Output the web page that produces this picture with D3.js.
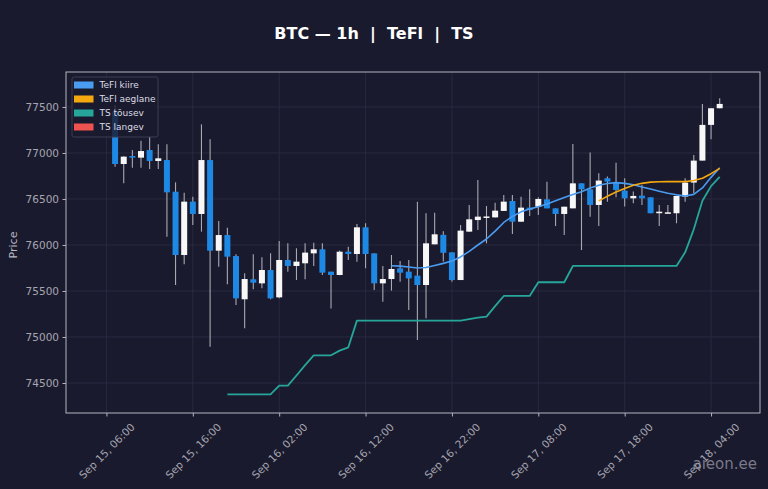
<!DOCTYPE html>
<html>
<head>
<meta charset="utf-8">
<script src="https://cdn.jsdelivr.net/npm/d3@7"></script>
<style>
  html, body { margin: 0; padding: 0; background: #1a1a2e; }
  svg { display: block; font-family: "DejaVu Sans", sans-serif; }
</style>
</head>
<body>
<div id="chart"></div>
<script>
// hourly candles, first one at Sep 15 07:00 (UTC)
const firstCandle = "2025-09-15T07:00:00Z";
const opens = [77450, 76880, 76967, 76949, 77032, 76913, 76923, 76579, 75891, 76471,
  76337, 76923, 75938, 76108, 75880, 75410, 75627, 75583, 75728, 75431,
  75837, 75772, 75801, 75909, 75953, 75710, 75674, 75927, 75902, 76192,
  75909, 75583, 75630, 75746, 75710, 75667, 75565, 76007, 76110, 75920,
  75619, 76145, 76271, 76300, 76300, 76370, 76478, 76253, 76406, 76416,
  76496, 76398, 76337, 76398, 76670, 76605, 76435, 76725, 76678, 76591,
  76507, 76536, 76518, 76345, 76345, 76345, 76526, 76678, 76917, 77305, 77486];
const highs = [77520, 76965, 77032, 77134, 77177, 77094, 77094, 76681, 76568, 76525,
  77311, 77148, 76260, 76188, 75899, 75692, 75899, 75866, 75909, 76043,
  76018, 75964, 76018, 76025, 76018, 75710, 75940, 75982, 76228, 76235,
  75909, 75772, 75891, 75826, 75837, 76471, 76344, 76351, 76150, 75920,
  76217, 76434, 76706, 76424, 76460, 76543, 76543, 76525, 76605, 76518,
  76688, 76398, 76416, 77098, 76670, 77004, 76779, 76743, 76895, 76725,
  76580, 76652, 76518, 76435, 76435, 76533, 76725, 76978, 77533, 77486, 77594];
const lows = [76851, 76670, 76840, 76840, 76826, 76826, 76090, 75565, 75790, 76217,
  76145, 74895, 75764, 75572, 75348, 75095, 75518, 75529, 75409, 75420,
  75710, 75619, 75627, 75772, 75674, 75311, 75670, 75837, 75819, 75746,
  75511, 75384, 75504, 75601, 75293, 74967, 75203, 76007, 75820, 75601,
  75619, 76145, 76163, 76018, 76300, 76370, 76119, 76253, 76315, 76326,
  76398, 76206, 76108, 76398, 75945, 76308, 76207, 76471, 76518, 76417,
  76453, 76435, 76345, 76207, 76345, 76236, 76471, 76562, 76917, 77149, 77486];
const closes = [76880, 76960, 76949, 77021, 76913, 76942, 76572, 75891, 76471, 76337,
  76923, 75938, 76108, 75873, 75420, 75630, 75590, 75728, 75420, 75837,
  75772, 75819, 75917, 75953, 75699, 75674, 75927, 75902, 76192, 75902,
  75583, 75630, 75739, 75699, 75637, 75565, 76018, 76116, 75915, 75619,
  76156, 76279, 76308, 76310, 76373, 76471, 76253, 76406, 76380, 76500,
  76398, 76337, 76416, 76670, 76605, 76435, 76700, 76689, 76598, 76507,
  76533, 76507, 76345, 76362, 76355, 76533, 76678, 76917, 77305, 77486, 77533];

// TeFl kiire from Sep 16 15:00
const kiireFrom = "2025-09-16T15:00:00Z";
const kiire = [75775, 75770, 75760, 75750, 75755, 75778, 75800, 75825, 75870, 75930,
  76000, 76065, 76150, 76245, 76310, 76360, 76390, 76416, 76445, 76480,
  76515, 76548, 76578, 76620, 76650, 76668, 76678, 76670, 76655, 76630,
  76608, 76585, 76562, 76545, 76533, 76550, 76620, 76735, 76840];

// TeFl aeglane from Sep 17 15:00
const aeglaneFrom = "2025-09-17T15:00:00Z";
const aeglane = [76479, 76530, 76575, 76615, 76650, 76670, 76683, 76688, 76689, 76689,
  76689, 76700, 76725, 76775, 76833];

// TS tõusev from Sep 15 20:00
const tsFrom = "2025-09-15T20:00:00Z";
const tsUp = [74377, 74377, 74377, 74377, 74377, 74377, 74471, 74471, 74582, 74695,
  74801, 74801, 74801, 74852, 74888, 75178, 75178, 75178, 75178, 75178,
  75178, 75178, 75178, 75178, 75178, 75178, 75178, 75178, 75195, 75210,
  75221, 75335, 75446, 75446, 75446, 75446, 75595, 75595, 75595, 75595,
  75772, 75772, 75772, 75772, 75772, 75772, 75772, 75772, 75772, 75772,
  75772, 75772, 75772, 75920, 76170, 76480, 76640, 76740];

const xTicks = ["2025-09-15T06:00:00Z", "2025-09-15T16:00:00Z", "2025-09-16T02:00:00Z",
  "2025-09-16T12:00:00Z", "2025-09-16T22:00:00Z", "2025-09-17T08:00:00Z",
  "2025-09-17T18:00:00Z", "2025-09-18T04:00:00Z"];
const yTicks = [74500, 75000, 75500, 76000, 76500, 77000, 77500];

const legendNames = ["TeFl kiire", "TeFl aeglane", "TS tõusev", "TS langev"];
const legendColors = ["#4a9cf0", "#f5a70f", "#26a69a", "#ef5350"];

// set the dimensions and margins of the graph
const margin = {top: 72, right: 8, bottom: 76, left: 66},
    width = 768 - margin.left - margin.right,
    height = 489 - margin.top - margin.bottom;

const svg = d3.select("#chart")
    .append("svg")
    .attr("width", 768)
    .attr("height", 489);

svg.append("rect")
    .attr("width", 768)
    .attr("height", 489)
    .attr("fill", "#1a1a2e");

const g = svg.append("g")
    .attr("transform", `translate(${margin.left}, ${margin.top})`);

const hour = (s, i) => d3.utcHour.offset(new Date(s), i);
const candles = opens.map((o, i) => ({t: hour(firstCandle, i), o: o, h: highs[i], l: lows[i], c: closes[i]}));

// scales
const x = d3.scaleUtc()
    .domain([new Date("2025-09-15T01:19:00Z"), new Date("2025-09-18T09:40:00Z")])
    .range([0, width]);
const y = d3.scaleLinear()
    .domain([74174, 77880])
    .range([height, 0]);

// grid
g.append("g")
    .selectAll("line.hg")
    .data(yTicks)
    .join("line")
    .attr("x1", 0).attr("x2", width)
    .attr("y1", d => y(d)).attr("y2", d => y(d))
    .attr("stroke", "#2c2c45").attr("stroke-width", 0.8);
g.append("g")
    .selectAll("line.vg")
    .data(xTicks)
    .join("line")
    .attr("x1", d => x(new Date(d))).attr("x2", d => x(new Date(d)))
    .attr("y1", 0).attr("y2", height)
    .attr("stroke", "#2c2c45").attr("stroke-width", 0.8);

// candles
const bodyW = 6;
g.append("g")
    .selectAll("line")
    .data(candles)
    .join("line")
    .attr("x1", d => x(d.t)).attr("x2", d => x(d.t))
    .attr("y1", d => y(d.h)).attr("y2", d => y(d.l))
    .attr("stroke", "#a9a9b2").attr("stroke-width", 1.1);
g.append("g")
    .selectAll("rect")
    .data(candles)
    .join("rect")
    .attr("x", d => x(d.t) - bodyW / 2)
    .attr("width", bodyW)
    .attr("y", d => y(Math.max(d.o, d.c)))
    .attr("height", d => Math.max(1.5, Math.abs(y(d.o) - y(d.c))))
    .attr("fill", d => d.c >= d.o ? "#f7f7f7" : "#1e88e5");

// lines
function drawLine(from, vals, color, w) {
    const pts = vals.map((v, i) => ({t: hour(from, i), v: v}));
    g.append("path")
        .datum(pts)
        .attr("fill", "none")
        .attr("stroke", color)
        .attr("stroke-width", w)
        .attr("stroke-linejoin", "round")
        .attr("d", d3.line().x(d => x(d.t)).y(d => y(d.v)));
}
drawLine(tsFrom, tsUp, legendColors[2], 1.8);
drawLine(kiireFrom, kiire, legendColors[0], 1.6);
drawLine(aeglaneFrom, aeglane, legendColors[1], 1.6);

// frame
g.append("rect")
    .attr("width", width).attr("height", height)
    .attr("fill", "none")
    .attr("stroke", "#b4b4c0").attr("stroke-width", 1);

// Y axis
const yAxis = g.append("g")
    .call(d3.axisLeft(y).tickValues(yTicks).tickSize(3.5).tickPadding(3.5).tickFormat(d3.format("d")));
yAxis.select(".domain").remove();
yAxis.selectAll("line").attr("stroke", "#b4b4c0");
yAxis.selectAll("text")
    .attr("fill", "#a6a6b0")
    .style("font", "10.5px 'DejaVu Sans'");

// X axis
const xAxis = g.append("g")
    .attr("transform", `translate(0, ${height})`)
    .call(d3.axisBottom(x).tickValues(xTicks.map(d => new Date(d))).tickSize(3.5).tickFormat(d3.utcFormat("%b %d, %H:%M")));
xAxis.select(".domain").remove();
xAxis.selectAll("line").attr("stroke", "#b4b4c0");
xAxis.selectAll("text")
    .attr("fill", "#a6a6b0")
    .style("font", "10.5px 'DejaVu Sans'")
    .attr("y", 0).attr("dy", "0.35em")
    .attr("text-anchor", "middle")
    .attr("transform", "translate(0, 38) rotate(-45)");

// axis label
svg.append("text")
    .attr("transform", `translate(17, ${margin.top + y(76000)}) rotate(-90)`)
    .attr("text-anchor", "middle")
    .attr("fill", "#b8b8c2")
    .style("font", "11px 'DejaVu Sans'")
    .text("Price");

// title
svg.append("text")
    .attr("x", 374).attr("y", 38.5)
    .attr("text-anchor", "middle")
    .attr("fill", "#ffffff")
    .style("font", "bold 16px 'DejaVu Sans'")
    .style("white-space", "pre")
    .text("BTC — 1h  |  TeFl  |  TS");

// legend
const lg = svg.append("g").attr("transform", "translate(72, 77)");
lg.append("rect")
    .attr("width", 86).attr("height", 60).attr("rx", 2)
    .attr("fill", "#1a1a2e").attr("fill-opacity", 0.8)
    .attr("stroke", "#3a3a52");
const items = lg.selectAll("g.item")
    .data(legendNames)
    .join("g")
    .attr("transform", (d, i) => `translate(0, ${8 + i * 14})`);
items.append("rect")
    .attr("x", 2).attr("y", -3.5).attr("width", 19.5).attr("height", 7)
    .attr("fill", (d, i) => legendColors[i]);
items.append("text")
    .attr("x", 27.5).attr("dy", "0.35em")
    .attr("fill", "#dcdce4")
    .style("font", "9px 'DejaVu Sans'")
    .text(d => d);

// watermark
svg.append("text")
    .attr("x", 757).attr("y", 469)
    .attr("text-anchor", "end")
    .attr("fill", "#9a9aa8").attr("fill-opacity", 0.75)
    .style("font", "15px 'DejaVu Sans'")
    .text("aieon.ee");
</script>
</body>
</html>
